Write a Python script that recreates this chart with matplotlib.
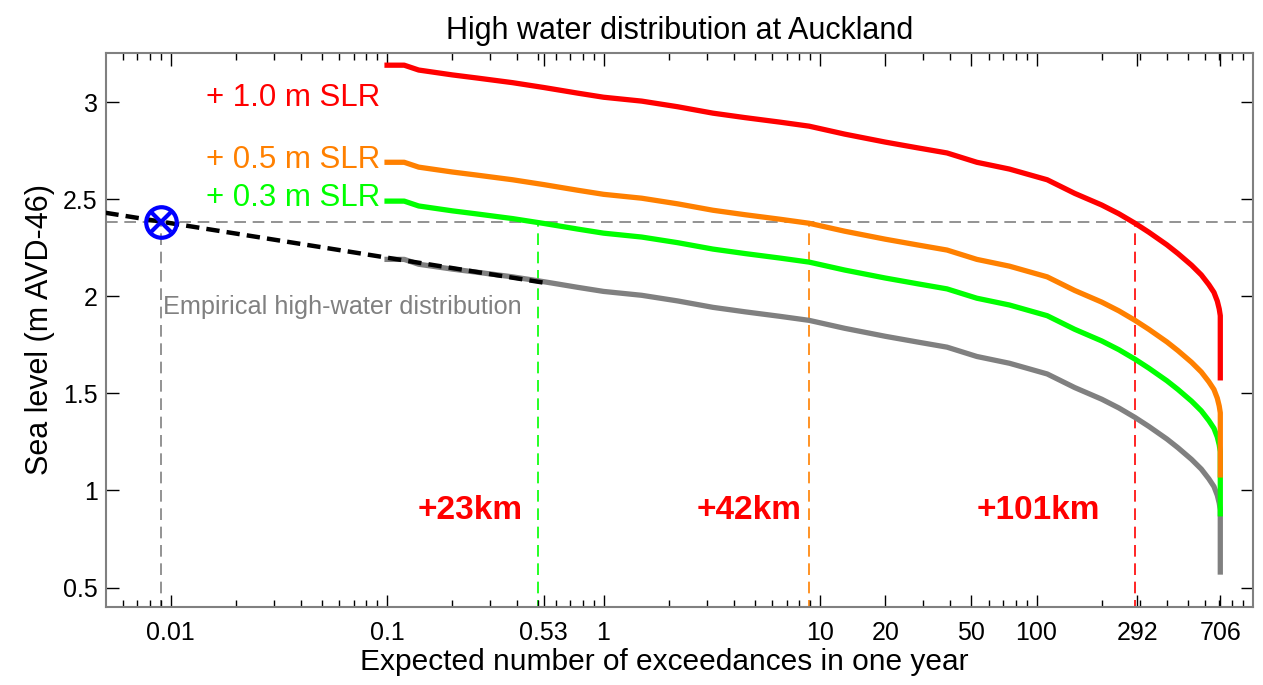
import numpy as np
import matplotlib
matplotlib.use("Agg")
import matplotlib.pyplot as plt
from matplotlib.ticker import FixedLocator, LogLocator, NullFormatter

plt.rcParams['font.family'] = ['Liberation Sans', 'DejaVu Sans']

# empirical high-water distribution (exceedances per year, level m AVD-46)
exceed = [0.1, 0.12, 0.14, 0.2, 0.26, 0.38, 0.53, 0.76, 1.0, 1.5, 2.2, 3.2, 4.5, 6.5,
          8.9, 13, 20, 28, 38.6, 53, 75, 112, 150, 200, 240, 285, 330, 400, 450,
          520, 577, 625, 660, 684, 698, 706, 706]
level = [2.19, 2.19, 2.165, 2.14, 2.124, 2.10, 2.075, 2.046, 2.025, 2.005, 1.976,
         1.943, 1.92, 1.897, 1.876, 1.835, 1.794, 1.765, 1.738, 1.69, 1.655, 1.60,
         1.53, 1.47, 1.425, 1.376, 1.33, 1.265, 1.22, 1.16, 1.11, 1.06, 1.02, 0.975,
         0.935, 0.90, 0.58]

# sea level rise scenarios
slr = [0.3, 0.5, 1.0]
slr_colors = ['#00ff00', '#ff8000', '#ff0000']
slr_labels = ['+ 0.3 m SLR', '+ 0.5 m SLR', '+ 1.0 m SLR']
slr_label_y = [2.505, 2.70, 3.02]

# extrapolation (black dashed) and design level
extrap_x = [0.005, 0.53]
extrap_y = [2.43, 2.07]
design_x = 0.009
design_level = 2.38

# crossing points of design level with each scenario
cross_x = [0.5, 8.9, 285]
km_labels = ['+23km', '+42km', '+101km']
km_x = [0.243, 4.72, 102]

xticks = [0.01, 0.1, 0.53, 1, 10, 20, 50, 100, 292, 706]
xticklabels = ['0.01', '0.1', '0.53', '1', '10', '20', '50', '100', '292', '706']
yticks = [0.5, 1, 1.5, 2, 2.5, 3]

fig = plt.figure(figsize=(12.63, 6.85), dpi=100)
ax = fig.add_axes([0.0839, 0.1139, 0.9082, 0.8088])
ax.set_xscale('log')

# reference dashed lines
ax.axhline(design_level, color='#808080', lw=1.2, dashes=(7, 4), zorder=1)
ax.plot([design_x, design_x], [0, design_level], color='#808080', lw=1.2,
        dashes=(7, 4), zorder=1)
for cx, c in zip(cross_x, slr_colors):
    ax.plot([cx, cx], [0, design_level], color=c, lw=1.2, dashes=(7, 4), zorder=1)

# curves
ax.plot(exceed, level, color='#808080', lw=3.8, zorder=3)
for off, c in zip(slr, slr_colors):
    ax.plot(exceed, np.array(level) + off, color=c, lw=3.8, zorder=3)

ax.plot(extrap_x, extrap_y, color='black', lw=3.2, dashes=(3, 1.6), zorder=4)

# design point marker
ax.plot(design_x, design_level, marker='o', ms=22, mfc='none', mec='#0000ff',
        mew=3, zorder=5)
ax.plot(design_x, design_level, marker='x', ms=15, mec='#0000ff', mew=3, zorder=5)

# texts
for lab, yy, c in zip(slr_labels, slr_label_y, slr_colors):
    ax.text(0.01456, yy, lab, color=c, fontsize=22.5, va='center', ha='left')
ax.text(0.00927, 1.943, 'Empirical high-water distribution', color='#808080',
        fontsize=18.2, va='center', ha='left')
for lab, kx in zip(km_labels, km_x):
    ax.text(kx, 0.897, lab, color='#ff0000', fontsize=24, fontweight='bold',
            va='center', ha='center')

ax.set_xlim(0.00503, 1000)
ax.set_ylim(0.40, 3.253)

ax.xaxis.set_major_locator(FixedLocator(xticks))
ax.set_xticklabels(xticklabels)
ax.xaxis.set_minor_locator(LogLocator(base=10, subs=np.arange(2, 10)))
ax.xaxis.set_minor_formatter(NullFormatter())
ax.set_yticks(yticks)
ax.set_yticklabels(['0.5', '1', '1.5', '2', '2.5', '3'])

ax.tick_params(axis='both', which='both', direction='in', top=True, right=True,
               labelsize=18, color='black', width=1)
ax.tick_params(axis='x', which='major', length=9, pad=10)
ax.tick_params(axis='x', which='minor', length=5)
ax.tick_params(axis='y', which='major', length=9, pad=6)

for s in ax.spines.values():
    s.set_color('#808080')
    s.set_linewidth(1.5)

ax.set_title('High water distribution at Auckland', fontsize=22, pad=10)
ax.set_xlabel('Expected number of exceedances in one year', fontsize=21.5)
ax.xaxis.set_label_coords(0.4865, -0.074)
ax.set_ylabel('Sea level (m AVD-46)', fontsize=22, labelpad=6)

fig.savefig('out.png', dpi=100)
